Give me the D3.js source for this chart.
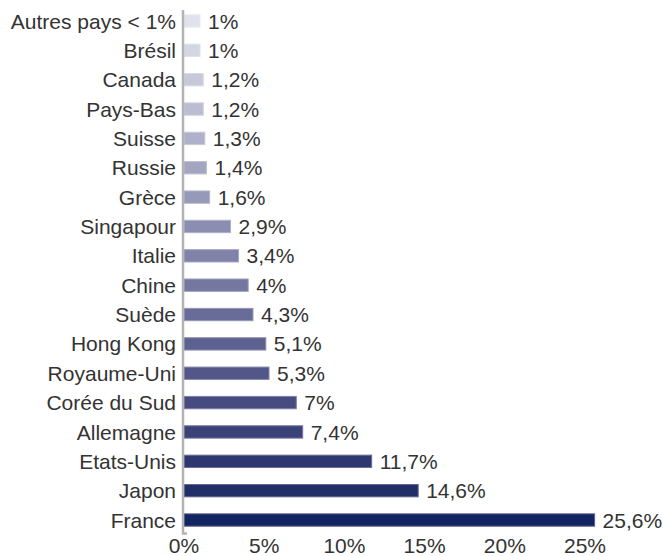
<!DOCTYPE html>
<html><head><meta charset="utf-8">
<script src="https://cdn.jsdelivr.net/npm/d3@7"></script>
<style>body{margin:0;background:#fff}text{font-family:"Liberation Sans",Arial,Helvetica,sans-serif;fill:#333}</style>
</head><body>
<svg id="c" width="663" height="556"></svg>
<script>
const categories = ["Autres pays < 1%","Brésil","Canada","Pays-Bas","Suisse","Russie","Grèce","Singapour","Italie","Chine","Suède","Hong Kong","Royaume-Uni","Corée du Sud","Allemagne","Etats-Unis","Japon","France"];
const values = [1,1,1.2,1.2,1.3,1.4,1.6,2.9,3.4,4,4.3,5.1,5.3,7,7.4,11.7,14.6,25.6];
const valueLabels = ["1%","1%","1,2%","1,2%","1,3%","1,4%","1,6%","2,9%","3,4%","4%","4,3%","5,1%","5,3%","7%","7,4%","11,7%","14,6%","25,6%"];
const ticks = [0,5,10,15,20,25];
const tickLabels = ["0%","5%","10%","15%","20%","25%"];

const svg = d3.select("#c");
const x = d3.scaleLinear().domain([0,25]).range([184,585]);
const y = d3.scaleBand().domain(categories).range([6.3,534.7]).paddingInner(0.58).paddingOuter(0.29);
const col = d3.scaleLinear().domain([0, categories.length-1]).range(["#dfe2ec","#122560"]).interpolate(d3.interpolateLab);
const fs = 21;

svg.selectAll("rect.bar").data(categories).join("rect")
  .attr("class","bar")
  .attr("x", x(0))
  .attr("y", d => y(d))
  .attr("width", (d,i) => x(values[i]) - x(0))
  .attr("height", y.bandwidth())
  .attr("fill", (d,i) => col(i))
  .attr("stroke", (d,i) => d3.interpolateLab(col(i), "#ffffff")(0.3))
  .attr("stroke-width", 1);

svg.selectAll("text.cat").data(categories).join("text")
  .attr("class","cat")
  .attr("x", 176)
  .attr("y", d => y(d) + y.bandwidth()/2)
  .attr("dy","0.36em")
  .attr("text-anchor","end")
  .style("font-size", fs+"px")
  .text(d => d);

svg.selectAll("text.val").data(categories).join("text")
  .attr("class","val")
  .attr("x", (d,i) => x(values[i]) + 8)
  .attr("y", d => y(d) + y.bandwidth()/2)
  .attr("dy","0.36em")
  .style("font-size", fs+"px")
  .text((d,i) => valueLabels[i]);

svg.append("path")
  .attr("d", `M${x(0)-1},10V533.5H${x(0)+3}`)
  .attr("fill","none").attr("stroke","#b3b3b3").attr("stroke-width",2.5);

svg.selectAll("text.tick").data(ticks).join("text")
  .attr("class","tick")
  .attr("x", d => x(d))
  .attr("y", 553)
  .attr("text-anchor","middle")
  .style("font-size", fs+"px")
  .text((d,i) => tickLabels[i]);
</script>
</body></html>
